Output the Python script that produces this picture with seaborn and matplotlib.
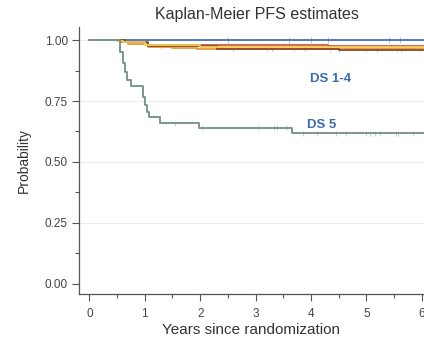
import numpy as np
import pandas as pd
import matplotlib
matplotlib.use("Agg")
import matplotlib.pyplot as plt
import seaborn as sns

# ---- data ----
ds0_t = [0.0, 6.04]
ds0_s = [1.0, 1.0]

ds1_t = [0.0, 0.55, 0.75, 1.03, 4.30, 6.04]
ds1_s = [1.0, 0.994, 0.990, 0.979, 0.975, 0.975]

ds2_t = [0.0, 0.60, 0.70, 1.05, 1.50, 1.95, 6.04]
ds2_s = [1.0, 0.992, 0.984, 0.973, 0.968, 0.963, 0.963]

ds3_t = [0.0, 0.65, 1.05, 2.30, 4.50, 6.04]
ds3_s = [1.0, 0.990, 0.976, 0.964, 0.960, 0.960]

ds4_t = [0.0, 0.50, 0.60, 1.00, 2.00, 6.04]
ds4_s = [1.0, 0.997, 0.990, 0.980, 0.970, 0.966]

ds5_t = [0.0, 0.56, 0.60, 0.64, 0.67, 0.76, 0.96, 1.00, 1.04, 1.08, 1.27, 1.98, 3.65, 6.04]
ds5_s = [1.0, 0.950, 0.905, 0.870, 0.836, 0.810, 0.768, 0.735, 0.706, 0.683, 0.659, 0.641, 0.618, 0.618]

ds5_cens_t = [1.55, 2.03, 3.04, 3.33, 3.38, 3.56, 3.85, 4.10, 4.46, 4.64, 5.00, 5.06, 5.15, 5.24, 5.54, 5.57, 5.84]
ds14_cens_t = [0.9, 1.3, 2.6, 2.9, 3.1, 3.2, 3.3, 3.4, 3.5, 3.7, 3.9, 4.0, 4.2, 4.35, 4.5, 4.7, 4.85, 5.0,
               5.2, 5.35, 5.45, 5.55, 5.62, 5.7, 5.85, 5.95]
ds0_cens_t = [2.5, 3.6, 4.0, 4.3, 5.4, 5.6]

groups = ["DS 0", "DS 1", "DS 2", "DS 3", "DS 4", "DS 5"]
colors = ["#4a6db3", "#cf5a45", "#e59a3a", "#8c4a2f", "#f0cc55", "#72908b"]

x_ticks = [0, 1, 2, 3, 4, 5, 6]
y_ticks = [0.0, 0.25, 0.5, 0.75, 1.0]
y_tick_labels = ["0.00", "0.25", "0.50", "0.75", "1.00"]

title = "Kaplan-Meier PFS estimates"
xlabel = "Years since randomization"
ylabel = "Probability"
label_14 = "DS 1-4"
label_5 = "DS 5"

# ---- build long-form table ----
series = [(ds0_t, ds0_s), (ds1_t, ds1_s), (ds2_t, ds2_s), (ds3_t, ds3_s), (ds4_t, ds4_s), (ds5_t, ds5_s)]
rows = []
for g, (t, s) in zip(groups, series):
    for ti, si in zip(t, s):
        rows.append({"t": ti, "s": si, "group": g})
df = pd.DataFrame(rows)

def step_value(t_arr, s_arr, x):
    idx = np.searchsorted(np.asarray(t_arr), x, side="right") - 1
    return np.asarray(s_arr)[idx]

cens_rows = []
for x in ds5_cens_t:
    cens_rows.append({"t": x, "s": step_value(ds5_t, ds5_s, x), "group": "DS 5"})
for i, x in enumerate(ds14_cens_t):
    g = ["DS 1", "DS 2", "DS 3", "DS 4"][i % 4]
    t, s = series[groups.index(g)]
    cens_rows.append({"t": x, "s": step_value(t, s, x), "group": g})
for x in ds0_cens_t:
    cens_rows.append({"t": x, "s": 1.0, "group": "DS 0"})
cdf = pd.DataFrame(cens_rows)

# ---- figure ----
sns.set_style("ticks")
plt.rcParams["font.family"] = ["Liberation Sans", "DejaVu Sans"]

fig = plt.figure(figsize=(4.24, 3.39), dpi=100)
ax = fig.add_axes([0.186, 0.133, 0.814, 0.787])

for yv in [0.25, 0.5, 0.75, 1.0]:
    ax.axhline(yv, color="#ededed", lw=0.8, zorder=0)

palette = dict(zip(groups, colors))
sns.lineplot(data=df, x="t", y="s", hue="group", palette=palette, estimator=None,
             sort=False, drawstyle="steps-post", lw=1.3, legend=False, ax=ax)
sns.scatterplot(data=cdf, x="t", y="s", hue="group", palette=palette, marker="|",
                s=14, linewidth=0.6, alpha=0.5, legend=False, ax=ax)

ax.set_xlim(-0.19, 6.04)
ax.set_ylim(-0.041, 1.053)
ax.set_xticks(x_ticks)
ax.set_xticks(np.arange(0.5, 6.0, 1.0), minor=True)
ax.set_yticks(y_ticks)
ax.set_yticklabels(y_tick_labels)
ax.set_yticks([0.125, 0.375, 0.625, 0.875], minor=True)

for side in ["top", "right"]:
    ax.spines[side].set_visible(False)
for side in ["left", "bottom"]:
    ax.spines[side].set_color("#555555")
    ax.spines[side].set_linewidth(0.9)

ax.tick_params(axis="both", which="major", length=5, width=0.8, color="#555555",
               labelsize=8.5, labelcolor="#444444")
ax.tick_params(axis="x", which="major", pad=5)
ax.tick_params(axis="y", which="major", pad=3)
ax.tick_params(axis="both", which="minor", length=3, width=0.8, color="#555555")

ax.set_xlabel(xlabel, fontsize=11, color="#333333", labelpad=2)
ax.set_ylabel(ylabel, fontsize=10, color="#333333", labelpad=10)

ax.text(4.35, 0.84, label_14, color="#3a6db0", fontsize=9.5, fontweight="bold",
        ha="center", va="center")
ax.text(4.2, 0.65, label_5, color="#3a6db0", fontsize=9.5, fontweight="bold",
        ha="center", va="center")

fig.text(0.605, 0.957, title, fontsize=11.5, color="#333333", ha="center", va="center")

fig.savefig("out.png", dpi=100)
